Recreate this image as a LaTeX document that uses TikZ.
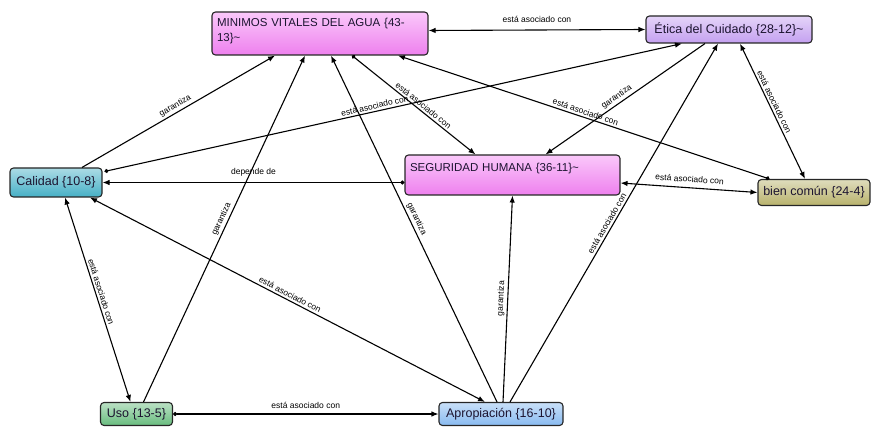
\documentclass[tikz,border=0pt]{standalone}
\usepackage{fontspec}
\setmainfont{Liberation Sans}
\usepackage{tikz}
\usetikzlibrary{arrows.meta}

\definecolor{txt}{RGB}{28,20,48}
\definecolor{pinkA}{RGB}{250,200,250}
\definecolor{pinkB}{RGB}{238,128,238}
\definecolor{eticaC}{RGB}{196,160,240}
\definecolor{calC}{RGB}{70,176,198}
\definecolor{bienC}{RGB}{184,178,108}
\definecolor{usoC}{RGB}{104,188,126}
\definecolor{aprC}{RGB}{136,186,240}

\begin{document}
\begin{tikzpicture}[x=1pt, y=-1pt,
  box/.style = {draw=black!85, line width=1.1pt, rounded corners=3.5pt,
    inner sep=3pt, text=txt, font=\fontsize{12.5}{14}\selectfont},
  wide/.style = {box, top color=pinkA, bottom color=pinkB, align=left,
    font=\fontsize{11.5}{15}\selectfont},
  rel/.style = {line width=1.1pt, -{Latex[length=7pt,width=5.5pt]}},
  both/.style = {rel, {Latex[length=7pt,width=5.5pt]}-{Latex[length=7pt,width=5.5pt]}},
  dot/.style = {rel, {Circle[length=4pt]}-{Latex[length=7pt,width=5.5pt]}},
  lbl/.style = {font=\fontsize{8.5}{9}\selectfont, text=black, sloped,
    above, inner sep=2pt}]
  \useasboundingbox (0,0) rectangle (872,427);

  \node[wide, minimum width=216pt, minimum height=43pt, text width=206pt,
    text height=12pt, text depth=25pt] (min) at (320,33.5)
    {MINIMOS VITALES DEL AGUA \{43-\\13\}\textasciitilde};
  \node[box, top color=eticaC!45!white, bottom color=eticaC,
    minimum width=166pt, minimum height=27pt] (etica) at (729,29.5)
    {Ética del Cuidado \{28-12\}\textasciitilde};
  \node[box, top color=calC!45!white, bottom color=calC,
    minimum width=92pt, minimum height=29pt] (cal) at (56,182.5)
    {Calidad \{10-8\}};
  \node[wide, minimum width=215pt, minimum height=40pt, text width=205pt,
    text height=14pt, text depth=20pt] (seg) at (512.5,175)
    {SEGURIDAD HUMANA \{36-11\}\textasciitilde};
  \node[box, top color=bienC!45!white, bottom color=bienC,
    minimum width=112pt, minimum height=26pt] (bien) at (814,192.5)
    {bien común \{24-4\}};
  \node[box, top color=usoC!45!white, bottom color=usoC,
    minimum width=72pt, minimum height=23pt] (uso) at (136.5,414)
    {Uso \{13-5\}};
  \node[box, top color=aprC!45!white, bottom color=aprC,
    minimum width=124pt, minimum height=23pt] (apr) at (501,414)
    {Apropiación \{16-10\}};

  \draw[both] ([yshift=3pt]min.east) -- node[lbl, above=5pt]{está asociado con} (etica.west);
  \draw[rel] ([xshift=26pt]cal.north) -- node[lbl]{garantiza} ([xshift=-45pt]min.south);
  \draw[dot] ([xshift=2pt,yshift=-4pt]cal.north east) -- node[lbl, pos=0.47]{está asociado con} ([xshift=-47pt]etica.south);
  \draw[dot] (seg.west |- cal.east) -- node[lbl, above=4pt]{depende de} (cal.east);
  \draw[both] ([xshift=-6pt]uso.north) -- node[lbl, pos=0.53]{está asociado con} ([xshift=9pt]cal.south);
  \draw[rel] ([xshift=7pt]uso.north) -- node[lbl, pos=0.52]{garantiza} ([xshift=-15pt]min.south);
  \draw[both] ([xshift=-16pt]apr.north) -- node[lbl]{está asociado con} ([xshift=34pt]cal.south);
  \draw[rel] ([xshift=-4pt]apr.north) -- node[lbl, pos=0.52]{garantiza} ([xshift=11pt]min.south);
  \draw[rel] ([xshift=2pt]apr.north) -- node[lbl]{garantiza} (seg.south);
  \draw[rel] ([xshift=9pt]apr.north) -- node[lbl, pos=0.49]{está asociado con} ([xshift=-11pt]etica.south);
  \draw[dot] ([xshift=32pt]min.south) -- node[lbl, pos=0.55]{está asociado con} ([xshift=-37pt]seg.north);
  \draw[rel] ([xshift=-24pt]etica.south) -- node[lbl, pos=0.53]{garantiza} ([xshift=33pt]seg.north);
  \draw[dot] ([xshift=12pt]bien.north west) -- node[lbl]{está asociado con} ([xshift=78pt]min.south);
  \draw[both] ([xshift=11pt]etica.south) -- node[lbl, pos=0.45]{está asociado con} ([xshift=-9pt]bien.north);
  \draw[both] (bien.west) -- node[lbl, above=3pt]{está asociado con} ([yshift=-8pt]seg.east);
  \draw[dot] (uso.east) -- node[lbl, above=3pt]{está asociado con} (apr.west);
\end{tikzpicture}
\end{document}
